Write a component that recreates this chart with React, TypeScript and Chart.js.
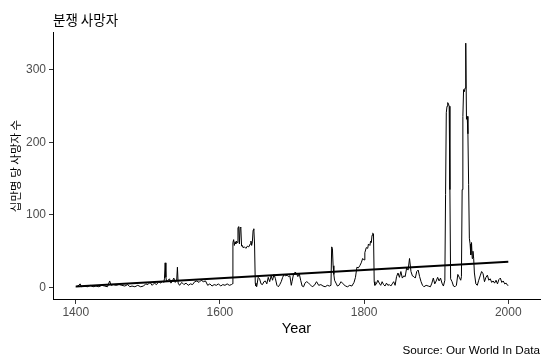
import React, { useEffect, useRef } from "react";
import { Chart, registerables } from "chart.js";

Chart.register(...registerables);

const chartTitle = "분쟁 사망자";
const yAxisTitle = "십만명 당 사망자 수";
const xAxisTitle = "Year";
const sourceText = "Source: Our World In Data";

const years = [
  1400, 1403, 1406, 1408, 1412, 1416, 1420, 1424, 1428, 1432, 1436, 1440, 1444, 1447, 1449,
  1452, 1456, 1460, 1464, 1468, 1472, 1475, 1478, 1482, 1486, 1490, 1494, 1497, 1500, 1503,
  1506, 1509, 1512, 1515, 1518, 1520, 1522, 1523, 1524, 1525, 1526, 1528, 1530, 1532, 1534,
  1536, 1538, 1540, 1541, 1542, 1544, 1547, 1550, 1553, 1556, 1559, 1562, 1565, 1568, 1571,
  1574, 1577, 1580, 1583, 1586, 1589, 1592, 1595, 1598, 1601, 1604, 1607, 1610, 1613, 1616,
  1617, 1618, 1619, 1620, 1621, 1622, 1623, 1624, 1625, 1626, 1627, 1628, 1629, 1630, 1631,
  1632, 1634, 1636, 1638, 1640, 1642, 1643, 1644, 1645, 1646, 1647, 1648, 1649, 1650, 1651,
  1653, 1655, 1657, 1659, 1661, 1663, 1665, 1667, 1669, 1671, 1673, 1675, 1677, 1679, 1681,
  1683, 1685, 1687, 1689, 1691, 1693, 1695, 1697, 1699, 1700, 1702, 1704, 1706, 1708, 1710,
  1712, 1714, 1716, 1718, 1720, 1722, 1725, 1728, 1731, 1734, 1737, 1740, 1743, 1746, 1749,
  1752, 1754, 1755, 1756, 1757, 1758, 1759, 1761, 1763, 1765, 1768, 1771, 1774, 1777, 1780,
  1783, 1786, 1788, 1790, 1792, 1794, 1796, 1798, 1800, 1801, 1803, 1805, 1806, 1808, 1809,
  1810, 1811, 1812, 1813, 1814, 1815, 1817, 1819, 1821, 1823, 1825, 1827, 1829, 1831, 1833,
  1835, 1837, 1839, 1841, 1843, 1845, 1847, 1849, 1851, 1853, 1855, 1857, 1859, 1861, 1863,
  1865, 1867, 1869, 1871, 1873, 1875, 1877, 1879, 1881, 1883, 1886, 1889, 1892, 1894, 1896,
  1898, 1900, 1902, 1904, 1906, 1908, 1910, 1912, 1913, 1914, 1915, 1916, 1917, 1918, 1919,
  1920, 1922, 1924, 1926, 1928, 1930, 1932, 1934, 1935, 1936, 1937, 1938, 1939, 1940, 1941,
  1942, 1943, 1944, 1945, 1946, 1947, 1948, 1949, 1950, 1951, 1952, 1953, 1955, 1957, 1959,
  1961, 1963, 1965, 1967, 1969, 1971, 1973, 1975, 1977, 1979, 1981, 1983, 1985, 1987, 1989,
  1991, 1993, 1995, 1997, 1999, 2000,
];

const deaths = [
  1, 2, 5, 1, 2, 1, 3, 1, 2, 1, 3, 2, 1, 9, 3,
  4, 3, 4, 3, 2, 4, 1, 2, 1, 3, 1, 2, 5, 4, 7,
  3, 6, 4, 8, 6, 9, 7, 12, 34, 14, 8, 10, 12, 6, 9,
  13, 7, 10, 28, 6, 3, 7, 4, 6, 3, 5, 4, 8, 9, 7,
  10, 8, 9, 3, 5, 2, 4, 3, 5, 2, 4, 3, 5, 3, 4,
  5, 62, 66, 58, 63, 60, 64, 62, 82, 84, 60, 83, 82, 57, 58,
  55, 56, 54, 57, 56, 60, 64, 58, 63, 79, 81, 60, 6, 2, 1,
  14, 12, 5, 4, 8, 9, 5, 14, 8, 16, 10, 18, 12, 3, 1,
  4, 8, 14, 18, 16, 17, 15, 16, 3, 8, 18, 21, 20, 15, 19,
  10, 2, 1, 6, 8, 7, 4, 1, 3, 8, 3, 4, 2, 1, 3,
  2, 3, 56, 54, 30, 18, 10, 6, 2, 3, 8, 5, 2, 1, 3,
  2, 7, 14, 28, 27, 30, 34, 40, 38, 48, 55, 54, 60, 58, 64,
  62, 72, 75, 74, 8, 3, 5, 10, 6, 3, 8, 4, 2, 6, 3,
  4, 2, 5, 8, 3, 15, 20, 14, 22, 13, 16, 15, 27, 24, 40,
  22, 16, 15, 13, 22, 24, 15, 8, 3, 1, 3, 2, 1, 6, 13,
  5, 9, 14, 9, 13, 6, 2, 10, 128, 241, 250, 255, 253, 250, 135,
  12, 8, 2, 1, 3, 18, 14, 10, 15, 135, 236, 273, 270, 275, 337,
  232, 236, 212, 142, 68, 60, 45, 62, 40, 50, 40, 20, 5, 3, 10,
  16, 22, 19, 8, 14, 17, 10, 12, 7, 9, 6, 10, 5, 11, 13,
  7, 9, 5, 6, 3, 3,
];

const trendYears = [1400, 2000];
const trendValues = [1.2, 35.5];

const xTickValues = [1400, 1600, 1800, 2000];
const yTickValues = [0, 100, 200, 300];

const latin = "'Liberation Sans', Arial, sans-serif";
const korean = "'Noto Sans CJK KR', 'Noto Sans', sans-serif";

export default function App() {
  const ref = useRef<HTMLCanvasElement>(null);

  useEffect(() => {
    if (!ref.current) return;
    const chart = new Chart(ref.current, {
      type: "line",
      data: {
        datasets: [
          {
            data: years.map((y, i) => ({ x: y, y: deaths[i] })),
            borderColor: "#000000",
            borderWidth: 1,
            pointRadius: 0,
            tension: 0,
          },
          {
            data: trendYears.map((y, i) => ({ x: y, y: trendValues[i] })),
            borderColor: "#000000",
            borderWidth: 2,
            pointRadius: 0,
            tension: 0,
          },
        ],
      },
      options: {
        animation: false,
        responsive: false,
        devicePixelRatio: 1,
        layout: { padding: { left: 0, right: 9, top: 0, bottom: 0 } },
        plugins: {
          legend: { display: false },
          tooltip: { enabled: false },
          title: {
            display: true,
            text: chartTitle,
            align: "start",
            fullSize: false,
            color: "#000000",
            font: { family: korean, size: 13.5, weight: "normal" },
            padding: { top: 11.6, bottom: 4.2 },
          },
          subtitle: {
            display: true,
            text: sourceText,
            position: "bottom",
            align: "end",
            color: "#000000",
            font: { family: latin, size: 11.7, weight: "normal" },
            padding: { top: 4, bottom: 6 },
          },
        },
        scales: {
          x: {
            type: "linear",
            min: 1368.4,
            max: 2044,
            afterBuildTicks: (s: any) => {
              s.ticks = xTickValues.map((v) => ({ value: v }));
            },
            afterFit: (s: any) => {
              s.height = 40;
            },
            grid: { drawOnChartArea: false, drawTicks: true, tickLength: 4, color: "#333333" },
            border: { display: true, color: "#000000", width: 1 },
            ticks: {
              color: "#4D4D4D",
              font: { family: latin, size: 12 },
              padding: 2,
              maxRotation: 0,
              autoSkip: false,
              callback: (v: any) => String(v),
            },
            title: {
              display: true,
              text: xAxisTitle,
              color: "#000000",
              font: { family: latin, size: 14.5 },
              padding: { top: 0, bottom: 1.8 },
            },
          },
          y: {
            type: "linear",
            min: -17.2,
            max: 352.4,
            afterBuildTicks: (s: any) => {
              s.ticks = yTickValues.map((v) => ({ value: v }));
            },
            afterFit: (s: any) => {
              s.width = 53;
            },
            grid: { drawOnChartArea: false, drawTicks: true, tickLength: 4, color: "#333333" },
            border: { display: true, color: "#000000", width: 1 },
            ticks: {
              color: "#4D4D4D",
              font: { family: latin, size: 12 },
              padding: 3,
              autoSkip: false,
              callback: (v: any) => String(v),
            },
            title: {
              display: true,
              text: yAxisTitle,
              color: "#000000",
              font: { family: korean, size: 11.5 },
              padding: { top: 9, bottom: 0 },
            },
          },
        },
      },
    });
    return () => chart.destroy();
  }, []);

  return (
    <div style={{ position: "absolute", left: 0, top: 0, width: 549, height: 364, background: "#ffffff" }}>
      <canvas ref={ref} width={549} height={364} style={{ display: "block", width: 549, height: 364 }} />
    </div>
  );
}
